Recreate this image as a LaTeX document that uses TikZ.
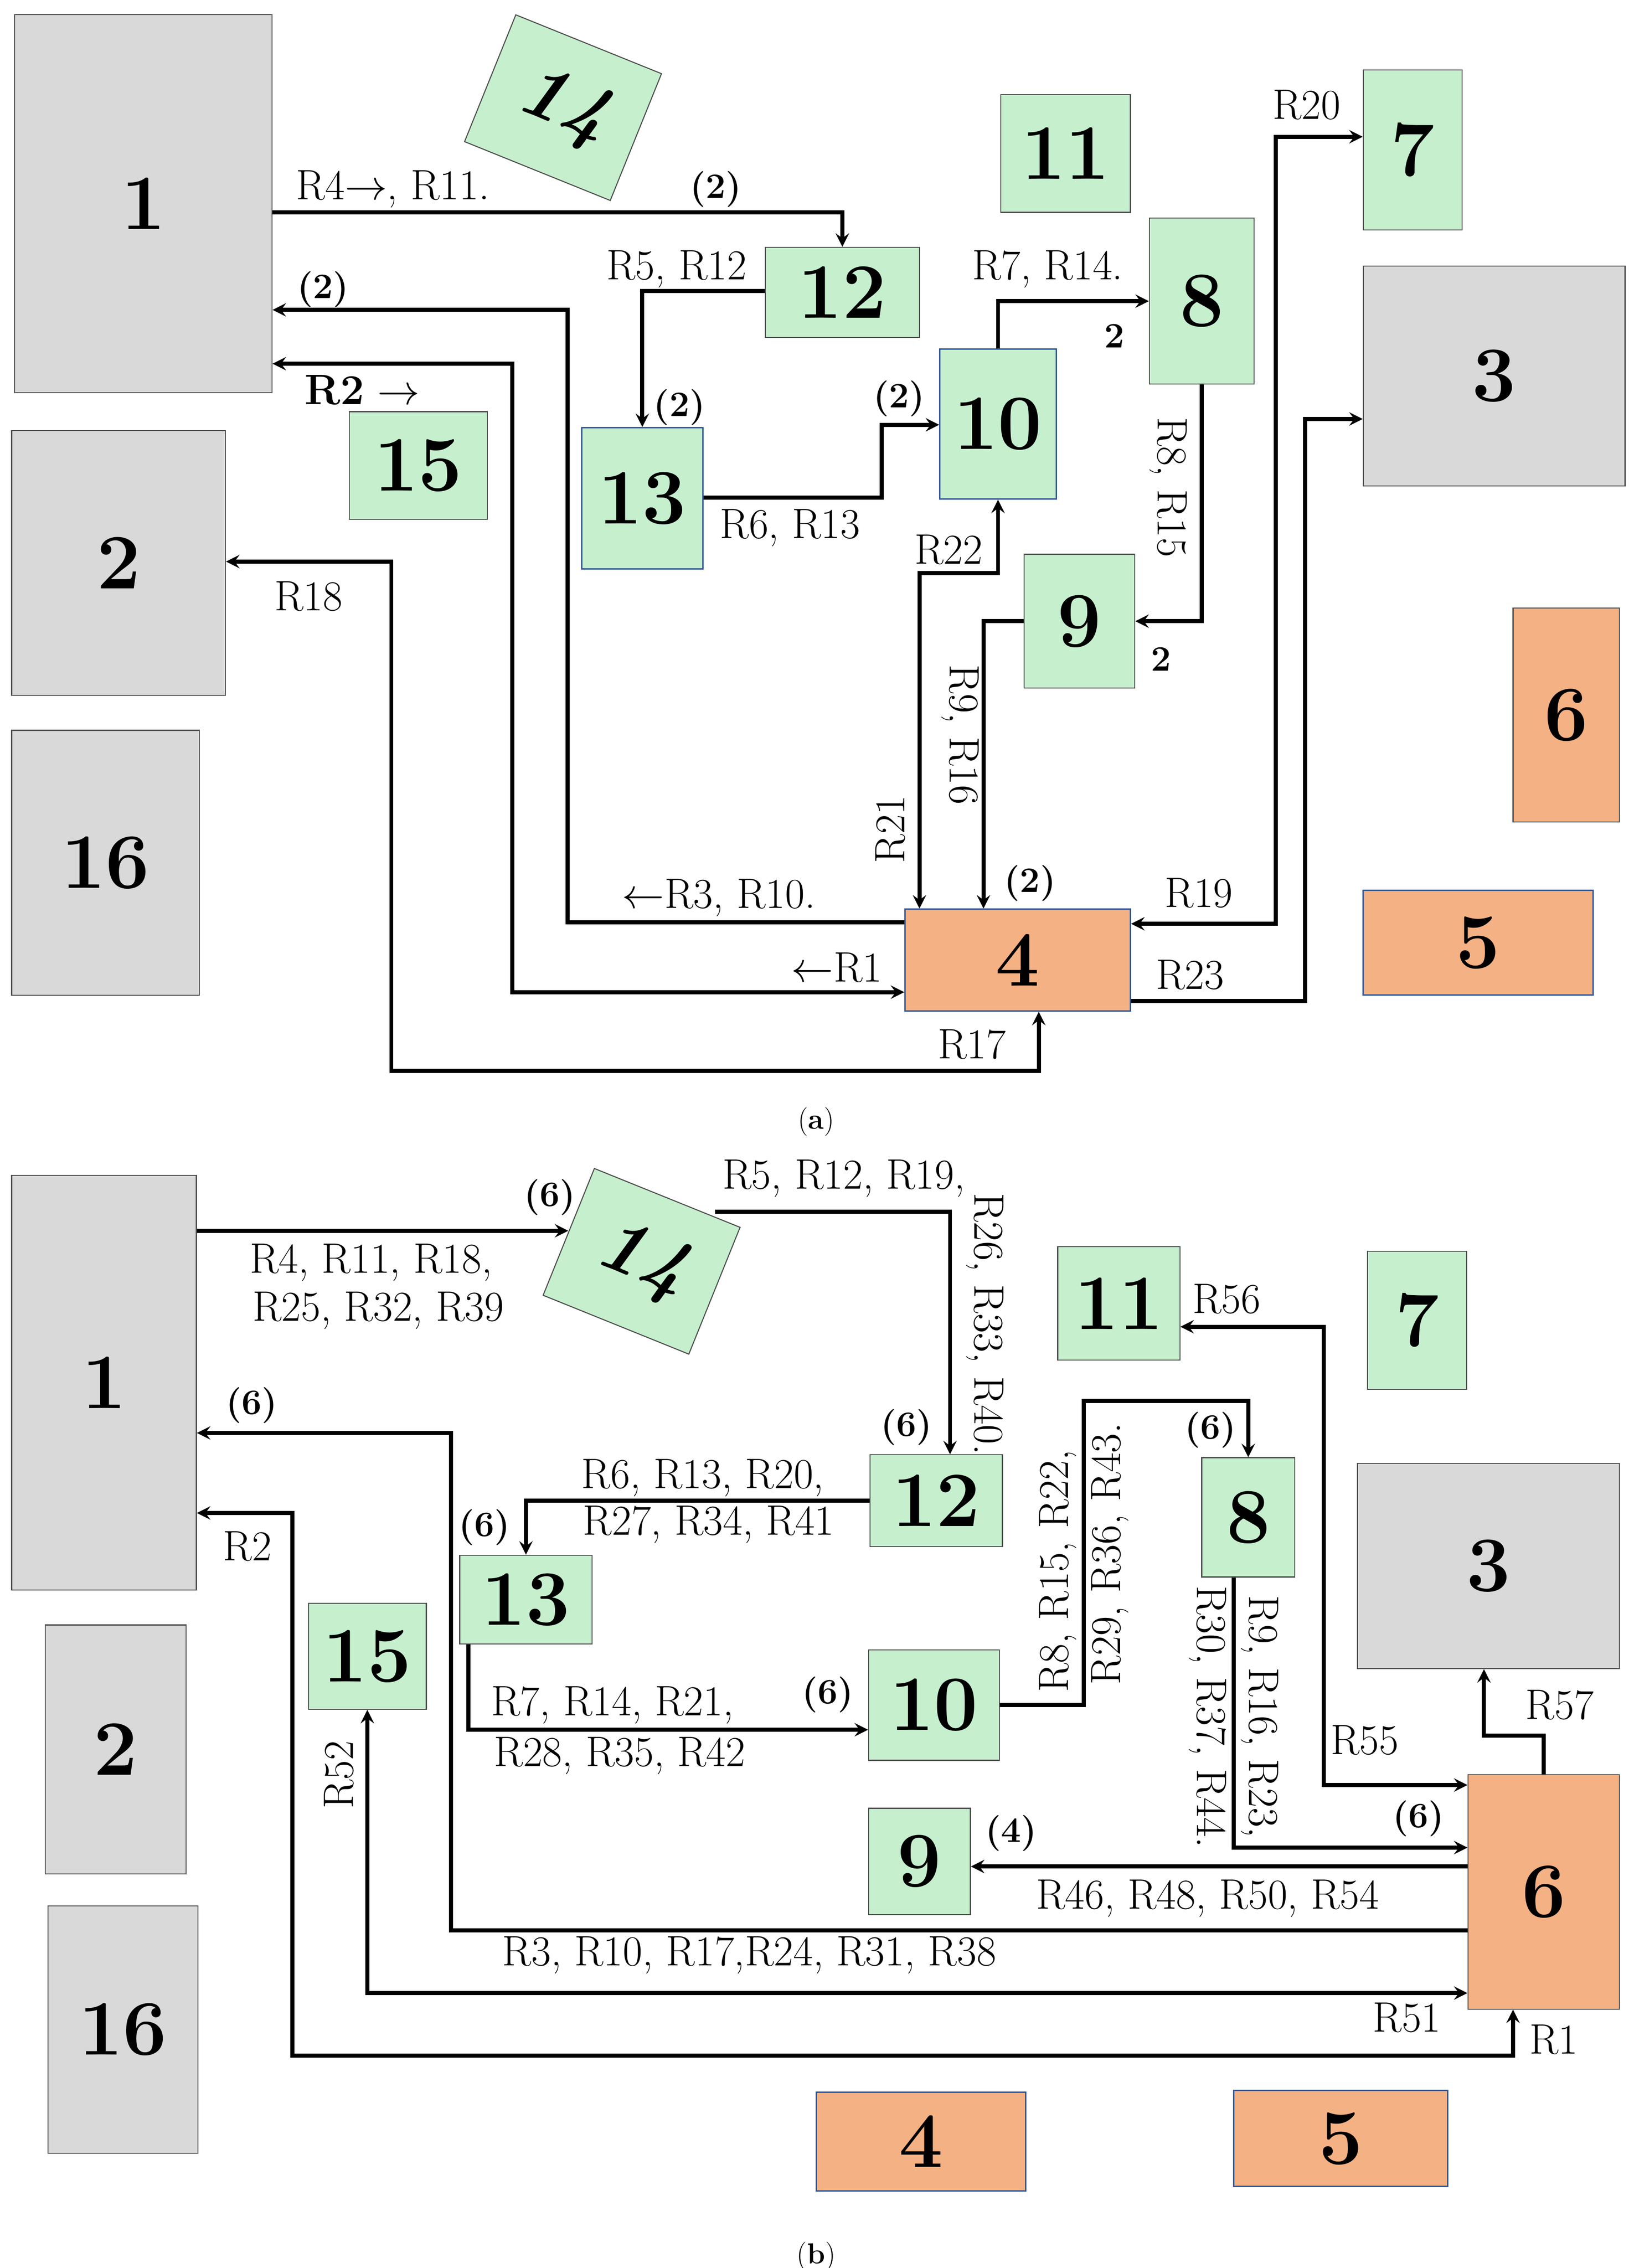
\documentclass[tikz,border=0pt]{standalone}
\usepackage{tikz}
\usetikzlibrary{arrows,positioning}
\definecolor{boxgray}{HTML}{D9D9D9}
\definecolor{boxgreen}{HTML}{C6EFCE}
\definecolor{boxorange}{HTML}{F4B183}
\definecolor{boxblue}{HTML}{2F5597}
\begin{document}
\begin{tikzpicture}[x=0.03cm,y=-0.03cm,
    box/.style={rectangle, draw, inner sep=0pt, font=\fontsize{46}{46}\selectfont\bfseries},
    gray/.style={box, fill=boxgray, draw=black!70, line width=0.6pt},
    green/.style={box, fill=boxgreen, draw=black!70, line width=0.6pt},
    greenb/.style={box, fill=boxgreen, draw=boxblue, line width=0.8pt},
    orange/.style={box, fill=boxorange, draw=boxblue, line width=0.8pt},
    orangen/.style={box, fill=boxorange, draw=black!70, line width=0.6pt},
    lab/.style={font=\fontsize{25}{27}\selectfont, inner sep=1pt},
    num/.style={font=\fontsize{21}{23}\selectfont\bfseries, inner sep=1pt},
    arrow/.style={line width=2.4pt,->,>=stealth},
    darrow/.style={line width=2.4pt,<->,>=stealth}
]
    \useasboundingbox (0,0) rectangle (1123,1559);
    % Part (a) boxes
    \node[gray, minimum width=5.31cm, minimum height=7.8cm] (a1) at (98.5,140) {1};
    \node[green, minimum width=3.24cm, minimum height=2.82cm, rotate=-22] (a14) at (387,74) {\itshape 14};
    \node[green, minimum width=2.67cm, minimum height=2.43cm] (a11) at (732.5,105.5) {11};
    \node[green, minimum width=2.04cm, minimum height=3.3cm] (a7) at (971,103) {7};
    \node[green, minimum width=3.18cm, minimum height=1.86cm] (a12) at (579,201) {12};
    \node[green, minimum width=2.16cm, minimum height=3.42cm] (a8) at (826,207) {8};
    \node[gray, minimum width=5.4cm, minimum height=4.53cm] (a3) at (1027,258.5) {3};
    \node[green, minimum width=2.85cm, minimum height=2.22cm] (a15) at (287.5,320) {15};
    \node[greenb, minimum width=2.49cm, minimum height=2.91cm] (a13) at (441.5,342.5) {13};
    \node[greenb, minimum width=2.4cm, minimum height=3.09cm] (a10) at (686,291.5) {10};
    \node[gray, minimum width=4.41cm, minimum height=5.46cm] (a2) at (81.5,387) {2};
    \node[green, minimum width=2.28cm, minimum height=2.76cm] (a9) at (742,427) {9};
    \node[orangen, minimum width=2.19cm, minimum height=4.41cm] (a6) at (1076.5,491.5) {6};
    \node[gray, minimum width=3.87cm, minimum height=5.46cm] (a16) at (72.5,593) {16};
    \node[orange, minimum width=4.65cm, minimum height=2.1cm] (a4) at (699.5,660) {4};
    \node[orange, minimum width=4.74cm, minimum height=2.16cm] (a5) at (1016,648) {5};

    % Part (a) arrows
    \draw[arrow] (a1.east |- 0,146) -| (a12.north);
    \draw[arrow] (a12.west |- 0,200) -| (a13.north);
    \draw[arrow] (a13.east |- 0,342) -| (606,292) -- (a10.west |- 0,292);
    \draw[arrow] (a10.north) |- (a8.west |- 0,207);
    \draw[arrow] (a8.south) |- (a9.east);
    \draw[arrow] (a9.west |- 0,427) -| (a4.north -| 676,0);
    \draw[darrow] (a4.north -| 632,0) |- (686,394) -- (a10.south);
    \draw[arrow] (a4.west |- 0,634) -| (390,213) -- (a1.east |- 0,213);
    \draw[darrow] (a1.east |- 0,250) -| (352,682) -- (a4.west |- 0,682);
    \draw[darrow] (a4.south -| 714,0) |- (269,736) |- (a2.east |- 0,386);
    \draw[darrow] (a4.east |- 0,635) -| (877,94) -- (a7.west |- 0,94);
    \draw[arrow] (a4.east |- 0,688) -| (897,288) -- (a3.west |- 0,288);

    % Part (a) labels
    \node[lab] (la1) at (270,130) {R4$\rightarrow$, R11.};
    \node[num] (la2) at (492,130) {(2)};
    \node[lab] (la3) at (465,185) {R5, R12};
    \node[num] (la4) at (467,280) {(2)};
    \node[lab] (la5) at (543,363) {R6, R13};
    \node[num] (la6) at (618,274) {(2)};
    \node[lab] (la7) at (720,185) {R7, R14.};
    \node[num] (la8) at (766,231) {2};
    \node[lab, rotate=-90] (la9) at (803,335) {R8, R15};
    \node[num] (la10) at (798,453) {2};
    \node[lab, rotate=-90] (la11) at (660,505) {R9, R16};
    \node[num] (la12) at (708,607) {(2)};
    \node[lab] (la13) at (652,378) {R22};
    \node[lab, rotate=90] (la14) at (612,570) {R21};
    \node[lab] (la15) at (494,617) {$\leftarrow$R3, R10.};
    \node[num] (la16) at (222,199) {(2)};
    \node[lab] (la17) at (575,665) {$\leftarrow$R1};
    \node[lab] (la18) at (249,268) {\textbf{R2} $\rightarrow$};
    \node[lab] (la19) at (212,410) {R18};
    \node[lab] (la20) at (668,718) {R17};
    \node[lab] (la21) at (824,614) {R19};
    \node[lab] (la22) at (898,72) {R20};
    \node[lab] (la23) at (818,670) {R23};
    \node[lab, font=\fontsize{17}{19}\selectfont] (capa) at (561,771) {(\textbf{a})};

    % Part (b) boxes
    \node[gray, minimum width=3.81cm, minimum height=8.55cm] (b1) at (71.5,950.5) {1};
    \node[green, minimum width=3.24cm, minimum height=2.82cm, rotate=-22] (b14) at (441,867) {\itshape 14};
    \node[green, minimum width=2.52cm, minimum height=2.34cm] (b11) at (769,896) {11};
    \node[green, minimum width=2.04cm, minimum height=2.85cm] (b7) at (974,907.5) {7};
    \node[green, minimum width=2.73cm, minimum height=1.89cm] (b12) at (643.5,1031.5) {12};
    \node[green, minimum width=1.92cm, minimum height=2.46cm] (b8) at (858,1043) {8};
    \node[gray, minimum width=5.4cm, minimum height=4.23cm] (b3) at (1023,1076.5) {3};
    \node[green, minimum width=2.73cm, minimum height=1.83cm] (b13) at (361.5,1099.5) {13};
    \node[green, minimum width=2.43cm, minimum height=2.19cm] (b15) at (252.5,1138.5) {15};
    \node[green, minimum width=2.7cm, minimum height=2.28cm] (b10) at (642,1172) {10};
    \node[gray, minimum width=2.91cm, minimum height=5.13cm] (b2) at (79.5,1202.5) {2};
    \node[green, minimum width=2.1cm, minimum height=2.19cm] (b9) at (632,1279.5) {9};
    \node[orangen, minimum width=3.12cm, minimum height=4.83cm] (b6) at (1061,1300.5) {6};
    \node[gray, minimum width=3.09cm, minimum height=5.1cm] (b16) at (84.5,1395) {16};
    \node[orange, minimum width=4.32cm, minimum height=2.04cm] (b4) at (633,1472) {4};
    \node[orange, minimum width=4.41cm, minimum height=1.98cm] (b5) at (921.5,1470) {5};

    % Part (b) arrows
    \draw[arrow] (b1.east |- 0,846) -- (b14.west |- 0,846);
    \draw[arrow] (b14.east |- 0,833) -| (b12.north -| 653,0);
    \draw[arrow] (b12.west) -| (b13.north);
    \draw[arrow] (b13.south -| 322,0) |- (b10.west |- 0,1189);
    \draw[arrow] (b10.east) -| (745,963) -| (b8.north);
    \draw[arrow] (b8.south -| 848,0) |- (b6.west |- 0,1270);
    \draw[arrow] (b6.west |- 0,1283) -- (b9.east |- 0,1283);
    \draw[arrow] (b6.west |- 0,1327) -| (310,985) -- (b1.east |- 0,985);
    \draw[darrow] (b6.west |- 0,1370) -| (b15.south);
    \draw[darrow] (b6.south -| 1040,0) |- (201,1413) |- (b1.east |- 0,1040);
    \draw[darrow] (b6.west |- 0,1227) -| (910,912) -- (b11.east |- 0,912);
    \draw[arrow] (b6.north) |- (1020,1193) -- (b3.south -| 1020,0);

    % Part (b) labels
    \node[lab] (lb1) at (255,868) {R4, R11, R18,};
    \node[lab] (lb2) at (260,901) {R25, R32, R39};
    \node[num] (lb3) at (378,823) {(6)};
    \node[lab] (lb4) at (580,810) {R5, R12, R19,};
    \node[lab, rotate=-90] (lb5) at (677,910) {R26, R33, R40.};
    \node[num] (lb6) at (623,981) {(6)};
    \node[lab] (lb7) at (483,1016) {R6, R13, R20,};
    \node[lab] (lb8) at (487,1048) {R27, R34, R41};
    \node[num] (lb9) at (333,1050) {(6)};
    \node[lab] (lb10) at (421,1172) {R7, R14, R21,};
    \node[lab] (lb11) at (426,1207) {R28, R35, R42};
    \node[num] (lb12) at (569,1165) {(6)};
    \node[lab, rotate=90] (lb13) at (727,1080) {R8, R15, R22,};
    \node[lab, rotate=90] (lb14) at (763,1068) {R29, R36, R43.};
    \node[num] (lb15) at (832,983) {(6)};
    \node[lab, rotate=-90] (lb16) at (866,1180) {R9, R16, R23,};
    \node[lab, rotate=-90] (lb17) at (830,1180) {R30, R37, R44.};
    \node[num] (lb18) at (975,1250) {(6)};
    \node[lab] (lb19) at (830,1305) {R46, R48, R50, R54};
    \node[num] (lb20) at (695,1260) {(4)};
    \node[lab] (lb21) at (515,1344) {R3, R10, R17,R24, R31, R38};
    \node[num] (lb22) at (173,966) {(6)};
    \node[lab] (lb23) at (967,1387) {R51};
    \node[lab, rotate=90] (lb24) at (233,1220) {R52};
    \node[lab] (lb25) at (1068,1402) {R1};
    \node[lab] (lb26) at (170,1063) {R2};
    \node[lab] (lb27) at (843,893) {R56};
    \node[lab] (lb28) at (938,1196) {R55};
    \node[lab] (lb29) at (1072,1172) {R57};
    \node[lab, font=\fontsize{17}{19}\selectfont] (capb) at (561,1551) {(\textbf{b})};
\end{tikzpicture}
\end{document}
